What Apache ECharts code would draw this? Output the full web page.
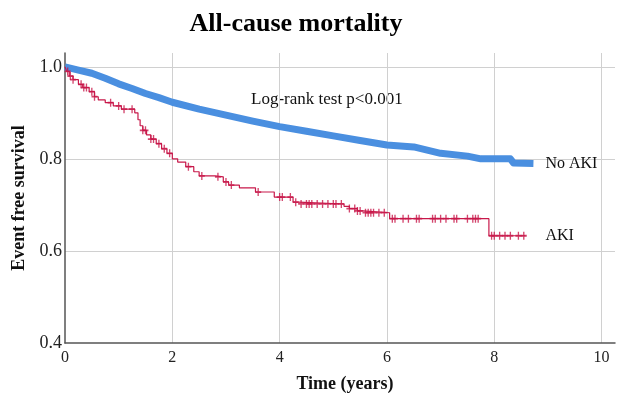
<!DOCTYPE html>
<html>
<head>
<meta charset="utf-8">
<title>All-cause mortality</title>
<script src="https://cdn.jsdelivr.net/npm/echarts@6.0.0/dist/echarts.min.js"></script>
<style>
  html, body { margin: 0; padding: 0; background: #fff; }
  #chart { width: 620px; height: 395px; }
</style>
</head>
<body>
<div id="chart"></div>
<script>
// Kaplan-Meier estimates (time in years, survival)
const noAkiTime = [0, 0.25, 0.5, 0.75, 1.0, 1.25, 1.5, 1.75, 2.0, 2.5, 3.0, 3.5, 4.0, 4.5, 5.0, 5.5, 6.0, 6.5, 7.0, 7.5, 7.75, 8.3, 8.36, 8.73]
const noAkiSurv = [1.0, 0.993, 0.986, 0.975, 0.963, 0.953, 0.942, 0.933, 0.923, 0.908, 0.895, 0.882, 0.870, 0.860, 0.850, 0.840, 0.830, 0.826, 0.812, 0.806, 0.800, 0.800, 0.791, 0.790]

const akiTime = [0, 0.03, 0.08, 0.15, 0.25, 0.33, 0.45, 0.55, 0.62, 0.75, 0.9, 1.05, 1.3, 1.36, 1.4, 1.45, 1.52, 1.6, 1.7, 1.8, 1.9, 2.0, 2.1, 2.25, 2.4, 2.5, 2.8, 2.95, 3.05, 3.25, 3.55, 3.9, 4.25, 4.35, 5.2, 5.3, 5.45, 5.55, 6.05, 7.9, 8.58]
const akiSurv = [1.0, 0.99, 0.98, 0.972, 0.962, 0.955, 0.946, 0.935, 0.928, 0.922, 0.915, 0.908, 0.90, 0.885, 0.872, 0.862, 0.852, 0.843, 0.833, 0.822, 0.812, 0.800, 0.793, 0.783, 0.772, 0.763, 0.761, 0.750, 0.743, 0.737, 0.728, 0.717, 0.706, 0.702, 0.697, 0.692, 0.687, 0.683, 0.670, 0.633, 0.633]

// censored observations in the AKI group
const akiCensor = [0.05, 0.1, 0.15, 0.3, 0.35, 0.4, 0.5, 0.55, 0.85, 1.0, 1.1, 1.25, 1.45, 1.5, 1.6, 1.65, 1.75, 1.85, 1.95, 2.3, 2.55, 2.85, 3.0, 3.1, 3.6, 4.0, 4.05, 4.2, 4.3, 4.4, 4.5, 4.55, 4.6, 4.7, 4.8, 4.9, 5.0, 5.05, 5.15, 5.3, 5.4, 5.45, 5.5, 5.6, 5.65, 5.7, 5.75, 5.85, 5.95, 6.1, 6.15, 6.3, 6.4, 6.55, 6.6, 6.85, 6.9, 7.0, 7.1, 7.25, 7.3, 7.5, 7.6, 7.65, 7.7, 7.95, 8.0, 8.1, 8.2, 8.3, 8.45, 8.55]

const xTicks = [0, 2, 4, 6, 8, 10]
const yTicks = [0.4, 0.6, 0.8, 1.0]

const SERIF = '"Liberation Serif", "DejaVu Serif", serif'
const BLUE = '#4a8fe0'
const RED = '#c8184a'

// survival value of a step curve at time t
const survAt = (times, vals, t) => {
  let v = vals[0]
  for (let i = 0; i < times.length; i++) {
    if (times[i] <= t) v = vals[i]
  }
  return v
}

const pairs = (a, b) => a.map((t, i) => [t, b[i]])

const chart = echarts.init(document.getElementById('chart'), null, { renderer: 'canvas' })

const option = {
  animation: false,
  title: {
    text: 'All-cause mortality',
    left: 291,
    textAlign: 'center',
    top: 6,
    textStyle: { fontFamily: SERIF, fontWeight: 'bold', fontSize: 26, color: '#000' }
  },
  grid: { left: 65, right: 5, top: 53, bottom: 52, containLabel: false, outerBoundsMode: 'none' },
  xAxis: {
    type: 'value',
    min: 0,
    max: 10.25,
    interval: 2,
    name: 'Time (years)',
    nameLocation: 'middle',
    nameGap: 32,
    nameTextStyle: { fontFamily: SERIF, fontWeight: 'bold', fontSize: 18, color: '#111', padding: [0, 0, 0, 10] },
    axisLine: { lineStyle: { color: '#555', width: 1.5 } },
    axisTick: { show: false },
    axisLabel: {
      fontFamily: SERIF, fontSize: 16, color: '#222', margin: 7,
      showMaxLabel: false,
      formatter: v => xTicks.includes(v) ? String(v) : ''
    },
    splitLine: { show: true, showMinLine: false, showMaxLine: false, lineStyle: { color: '#d0d0d0', width: 1 } }
  },
  yAxis: {
    type: 'value',
    min: 0.4,
    max: 1.03,
    interval: 0.2,
    name: 'Event free survival',
    nameLocation: 'middle',
    nameGap: 34,
    nameTextStyle: { fontFamily: SERIF, fontWeight: 'bold', fontSize: 18, color: '#111' },
    axisLine: { show: true, lineStyle: { color: '#555', width: 1.5 } },
    axisTick: { show: false },
    axisLabel: {
      fontFamily: SERIF, fontSize: 18, color: '#222', margin: 3,
      showMaxLabel: false,
      formatter: v => {
        const hit = yTicks.find(t => Math.abs(t - v) < 1e-6)
        return hit !== undefined ? hit.toFixed(1) : ''
      }
    },
    splitLine: { show: true, showMinLine: false, showMaxLine: false, lineStyle: { color: '#d0d0d0', width: 1 } }
  },
  graphic: [{
    type: 'text',
    left: 251,
    top: 91,
    style: { text: 'Log-rank test p<0.001', font: '17px ' + SERIF, fill: '#111' }
  }],
  series: [
    {
      name: 'No AKI',
      type: 'line',
      data: pairs(noAkiTime, noAkiSurv),
      showSymbol: false,
      lineStyle: { color: BLUE, width: 7, join: 'round' },
      endLabel: {
        show: true, formatter: 'No AKI', distance: 12,
        fontFamily: SERIF, fontSize: 16, color: '#111'
      },
      z: 2
    },
    {
      name: 'AKI',
      type: 'line',
      step: 'end',
      data: pairs(akiTime, akiSurv),
      showSymbol: false,
      lineStyle: { color: RED, width: 1.2 },
      endLabel: {
        show: true, formatter: 'AKI', distance: 20,
        fontFamily: SERIF, fontSize: 16, color: '#111'
      },
      z: 3
    },
    {
      name: 'AKI censored',
      type: 'scatter',
      data: akiCensor.map(t => [t, survAt(akiTime, akiSurv, t)]),
      symbol: 'path://M3.5,0h2v9h-2z M0,3.5h9v2h-9z',
      symbolSize: [6, 8],
      itemStyle: { color: RED },
      z: 4
    }
  ]
}

chart.setOption(option)
</script>
</body>
</html>
